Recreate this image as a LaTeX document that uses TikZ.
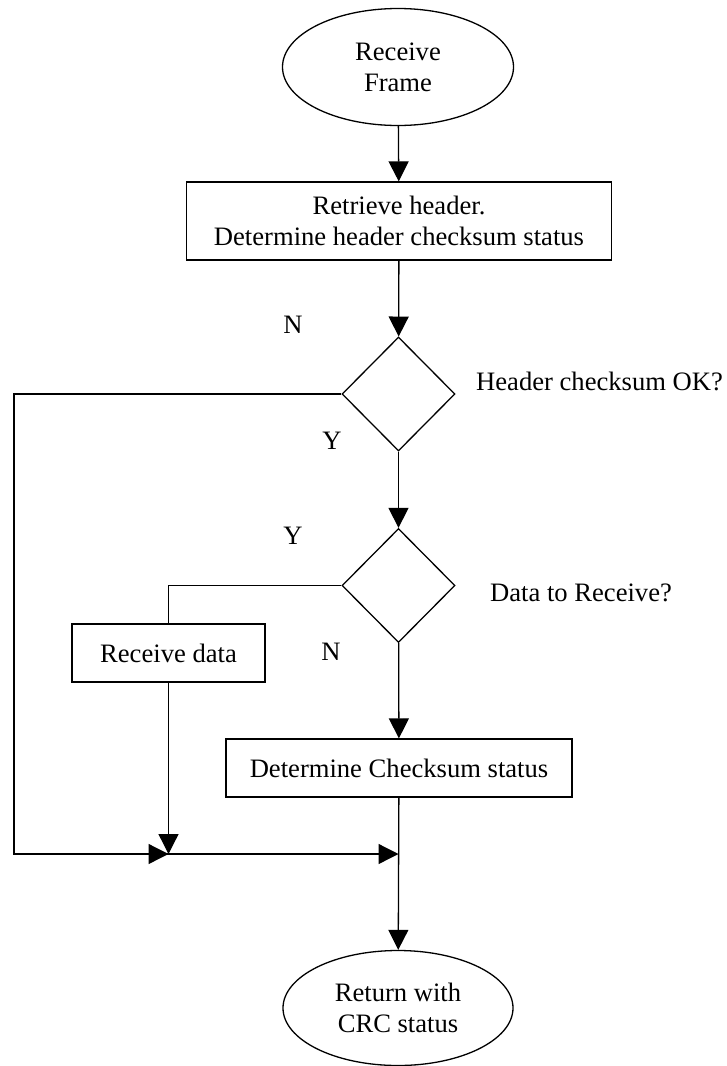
\documentclass[tikz,border=0pt]{standalone}
\usepackage{fontspec}
\setmainfont{Liberation Serif}
\usetikzlibrary{shapes.geometric,arrows.meta}
\begin{document}
\begin{tikzpicture}[x=1pt,y=-1pt,
  every node/.style={font=\fontsize{26.6}{31}\selectfont},
  line/.style={line width=1.3pt},
  arr/.style={line width=1.3pt,-{Triangle[length=20pt,width=20pt]}},
  term/.style={ellipse,draw,line width=1.3pt,inner sep=0pt,align=center},
  procbox/.style={rectangle,draw,line width=1.3pt,inner sep=0pt,align=center},
  decide/.style={diamond,draw,line width=1.3pt,inner sep=0pt,minimum width=113pt,minimum height=114pt},
  lbl/.style={inner sep=0pt}
]
\useasboundingbox (0,0) rectangle (726,1066);
\node[term,minimum width=231pt,minimum height=117pt] (e1) at (398,67) {Receive\\Frame};
\node[procbox,minimum width=425pt,minimum height=78pt] (b1) at (399,221) {Retrieve header.\\Determine header checksum status};
\node[decide] (d1) at (398.5,394) {};
\node[decide] (d2) at (398.5,585.5) {};
\node[procbox,minimum width=193pt,minimum height=58pt] (rd) at (168.5,653) {Receive data};
\node[procbox,minimum width=346pt,minimum height=58pt] (b3) at (399,768) {Determine Checksum status};
\node[term,minimum width=230pt,minimum height=115pt] (e2) at (398,1008) {Return with\\CRC status};

\node[lbl] (n1) at (293,325) {N};
\node[lbl] (y1) at (332,441) {Y};
\node[lbl] (y2) at (293,536) {Y};
\node[lbl] (n2) at (331,652) {N};
\node[lbl,anchor=base west] (q1) at (476,390) {Header checksum OK?};
\node[lbl,anchor=base west] (q2) at (490,601) {Data to Receive?};

\coordinate (c1) at (14,394);
\coordinate (c2) at (14,854);
\coordinate (j1) at (168.5,854);
\coordinate (j2) at (398.5,854);
\coordinate (c3) at (168.5,585.5);

\draw[arr] (e1) -- (b1);
\draw[arr] (b1) -- (d1);
\draw[arr] (d1) -- (d2);
\draw[arr] (d2) -- (b3);
\draw[arr] (b3) -- (e2);
\draw[line,line join=miter] (d1.west) -- (c1) -- (c2) -- (j1);
\draw[arr] (c2) -- (j1);
\draw[line,line join=miter] (d2.west) -- (c3) -- (rd.north);
\draw[arr] (rd.south) -- (j1);
\draw[arr] (j1) -- (j2);
\end{tikzpicture}
\end{document}
